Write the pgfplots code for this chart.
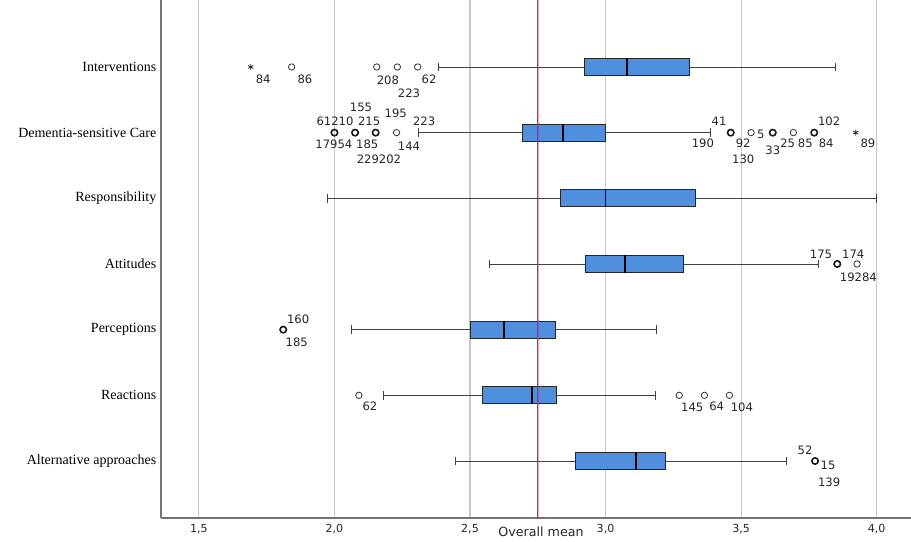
\documentclass[border=0pt]{standalone}
\usepackage{fontspec}
\setmainfont{Liberation Serif}
\newfontfamily\lab{DejaVu Sans}
\usepackage{pgfplots}
\pgfplotsset{compat=1.18}
\usepgfplotslibrary{statistics}

\definecolor{boxblue}{RGB}{80,142,222}
\definecolor{meanred}{RGB}{210,30,100}

\newcommand{\ol}[3]{\node[font=\lab\fontsize{8.7}{9}\selectfont, inner sep=0pt, text=black!85] at (axis cs:#1,#2) {#3};}

\pgfplotsset{
  boxplot/every box/.style={fill=boxblue, draw=black!85, line width=0.7pt},
  boxplot/every whisker/.style={draw=black!75, line width=0.7pt},
  boxplot/every median/.style={draw=black, line width=1.4pt},
}

\begin{document}
\begin{tikzpicture}
\begin{axis}[
  scale only axis, width=562.5pt, height=388.5pt,
  xmin=1.36, xmax=4.127, ymin=0.132, ymax=8.02,
  axis lines=left,
  x axis line style={-, draw=black!55, line width=0.8pt},
  y axis line style={-, draw=black!55, line width=0.8pt},
  clip=false,
  xtick={1.5,2,2.5,3,3.5,4},
  ytick={1,2,3,4,5,6,7},
  yticklabels={Alternative approaches, Reactions, Perceptions, Attitudes, Responsibility, Dementia-sensitive Care, Interventions},
  xmajorgrids,
  grid style={draw=black!22, line width=0.8pt},
  major tick length=0pt,
  xticklabel style={font=\lab\fontsize{8.3}{9}\selectfont, text=black!85, yshift=-1pt},
  yticklabel style={font=\fontsize{10.5}{12}\selectfont},
  /pgf/number format/.cd, use comma, fixed, fixed zerofill, precision=1, assume math mode=true,
  /pgfplots/.cd,
  boxplot/draw direction=x,
  boxplot/box extend=0.26,
  boxplot/whisker extend=0.13,
]
% boxes
\addplot[boxplot prepared={lower whisker=2.383, lower quartile=2.922, median=3.078, upper quartile=3.308, upper whisker=3.847, draw position=7}] coordinates {};
\addplot[boxplot prepared={lower whisker=2.309, lower quartile=2.693, median=2.844, upper quartile=3.000, upper whisker=3.386, draw position=6}] coordinates {};
\addplot[boxplot prepared={lower whisker=1.976, lower quartile=2.834, median=3.000, upper quartile=3.333, upper whisker=4.000, draw position=5}] coordinates {};
\addplot[boxplot prepared={lower whisker=2.572, lower quartile=2.927, median=3.071, upper quartile=3.288, upper whisker=3.787, draw position=4}] coordinates {};
\addplot[boxplot prepared={lower whisker=2.062, lower quartile=2.500, median=2.625, upper quartile=2.814, upper whisker=3.189, draw position=3}] coordinates {};
\addplot[boxplot prepared={lower whisker=2.180, lower quartile=2.545, median=2.730, upper quartile=2.820, upper whisker=3.183, draw position=2}] coordinates {};
\addplot[boxplot prepared={lower whisker=2.445, lower quartile=2.890, median=3.111, upper quartile=3.222, upper whisker=3.666, draw position=1}] coordinates {};
% outliers (single)
\addplot[only marks, mark=o, mark size=2.4pt, mark options={draw=black!80, line width=0.6pt}] coordinates {
 (1.842,7) (2.156,7) (2.232,7) (2.307,7)
 (2.229,6) (3.537,6) (3.693,6)
 (3.928,4)
 (2.090,2) (3.272,2) (3.365,2) (3.457,2)
};
% outliers (several cases)
\addplot[only marks, mark=o, mark size=2.4pt, mark options={draw=black!90, line width=1.2pt}] coordinates {
 (2.000,6) (2.076,6) (2.152,6) (3.462,6) (3.617,6) (3.770,6)
 (3.855,4)
 (1.811,3)
 (3.773,1)
};
% extremes
\addplot[only marks, mark=asterisk, mark size=2.2pt, mark options={draw=black!85, line width=0.6pt}] coordinates {
 (1.691,7) (3.923,6)
};
% overall mean reference line (mean = 2.75), drawn as a thin filled band
\addplot[fill=meanred, draw=none, mark=none] coordinates {(2.7476,0.132) (2.7524,0.132) (2.7524,8.02) (2.7476,8.02)} \closedcycle;
\node[font=\lab\fontsize{9.5}{10}\selectfont, text=black!85] at (axis cs:2.762,0.132) [yshift=-10.5pt] {Overall mean};
% labels
\ol{1.737}{6.817}{84}
\ol{1.891}{6.817}{86}
\ol{2.197}{6.791}{208}
\ol{2.349}{6.817}{62}
\ol{2.275}{6.600}{223}
\ol{2.098}{6.387}{155}
\ol{2.226}{6.295}{195}
\ol{2.002}{6.178}{61210}
\ol{2.128}{6.178}{215}
\ol{2.331}{6.178}{223}
\ol{1.998}{5.823}{17954}
\ol{2.121}{5.823}{185}
\ol{2.275}{5.797}{144}
\ol{2.164}{5.595}{229202}
\ol{3.419}{6.168}{41}
\ol{3.359}{5.839}{190}
\ol{3.508}{5.839}{92}
\ol{3.508}{5.600}{130}
\ol{3.573}{5.976}{5}
\ol{3.617}{5.726}{33}
\ol{3.672}{5.839}{25}
\ol{3.737}{5.839}{85}
\ol{3.814}{5.839}{84}
\ol{3.825}{6.168}{102}
\ol{3.968}{5.839}{89}
\ol{3.795}{4.152}{175}
\ol{3.914}{4.152}{174}
\ol{3.933}{3.800}{19284}
\ol{1.866}{3.163}{160}
\ol{1.861}{2.808}{185}
\ol{2.131}{1.826}{62}
\ol{3.320}{1.811}{145}
\ol{3.410}{1.826}{64}
\ol{3.503}{1.811}{104}
\ol{3.736}{1.167}{52}
\ol{3.821}{0.939}{15}
\ol{3.825}{0.680}{139}
\end{axis}
\pgfresetboundingbox
\path (current axis.south west) ++(-120.75pt,-18pt) coordinate (bl);
\path (bl) rectangle (current axis.north east);
\end{tikzpicture}
\end{document}
